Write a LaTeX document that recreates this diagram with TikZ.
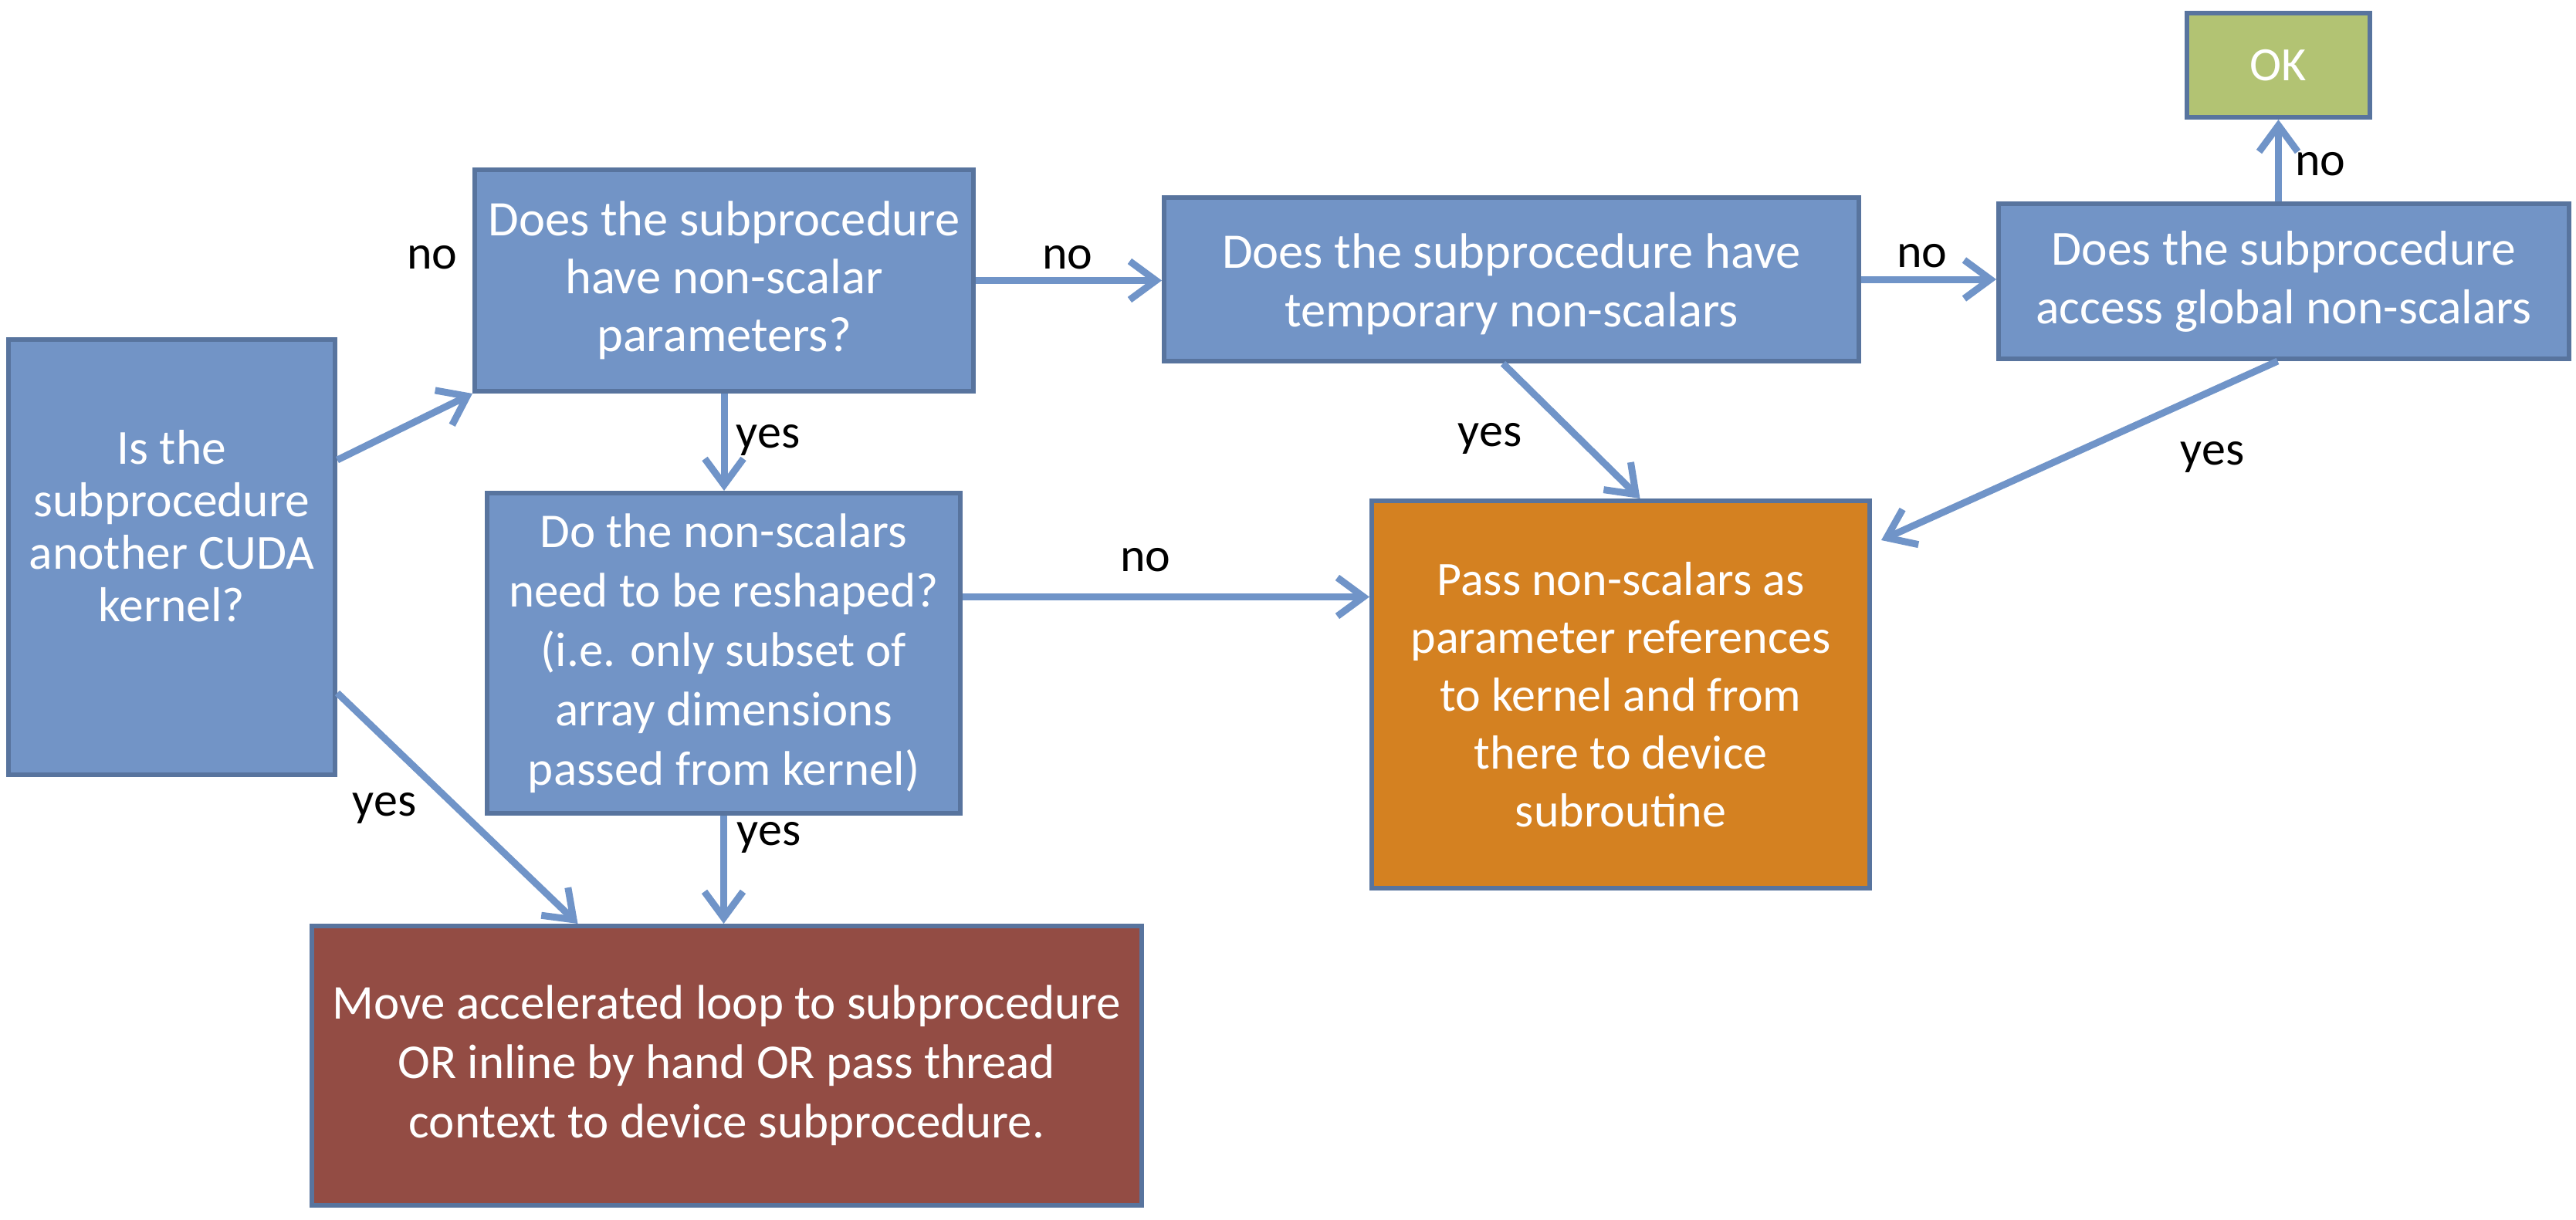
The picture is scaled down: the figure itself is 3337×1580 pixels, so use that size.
\documentclass[tikz,border=0pt]{standalone}
\usepackage{fontspec}
\setmainfont{Carlito}
\usetikzlibrary{arrows.meta}
\definecolor{boxblue}{HTML}{7294C6}
\definecolor{edgeblue}{HTML}{58749E}
\definecolor{arrowblue}{HTML}{7094C8}
\definecolor{maroonbox}{HTML}{934C44}
\definecolor{orangebox}{HTML}{D48121}
\definecolor{greenbox}{HTML}{B2C373}
\newcommand{\fs}[2]{\fontsize{#1}{#2}\selectfont}
\tikzset{
  box/.style={draw=edgeblue, line width=6pt, fill=boxblue, text=white, align=center,
    font=\fs{62}{77}, inner sep=0pt, anchor=center},
  boxtext/.style={text=white, align=center, inner sep=0pt, anchor=center},
  conn/.style={draw=arrowblue, line width=9pt, -{Straight Barb[length=34pt,width=50pt]}},
  lbl/.style={font=\fs{62}{74}, text=black, inner sep=0pt}
}
\begin{document}
\begin{tikzpicture}[x=1pt,y=-1pt]
\useasboundingbox (0,0) rectangle (3337,1580);
\node[box, minimum width=423pt, minimum height=564pt] (A) at (222.5,722) {};
\node[boxtext, font=\fs{63.5}{68}] (Atext) at ([yshift=40pt]A.center) {Is the\\subprocedure\\another CUDA\\kernel?};
\node[box, font=\fs{64.5}{75}, minimum width=646pt, minimum height=287pt] (B) at (938,363.5) {Does the subprocedure\\have non-scalar\\parameters?};
\node[box, font=\fs{63}{77}, minimum width=613pt, minimum height=415pt] (C) at (937.5,846.5) {Do the non-scalars\\need to be reshaped?\\(i.e. only subset of\\array dimensions\\passed from kernel)};
\node[box, font=\fs{63}{77}, fill=maroonbox, minimum width=1075pt, minimum height=362pt] (D) at (941.5,1381) {Move accelerated loop to subprocedure\\OR inline by hand OR pass thread\\context to device subprocedure.};
\node[box, minimum width=900pt, minimum height=212pt] (E) at (1958,362) {};
\node[boxtext, font=\fs{64.5}{76}] (Etext) at ([yshift=-6pt]E.center) {Does the subprocedure have\\temporary non-scalars};
\node[box, font=\fs{63.5}{76}, minimum width=739pt, minimum height=201pt] (F) at (2958.5,364.5) {Does the subprocedure\\access global non-scalars};
\node[box, font=\fs{62}{75}, fill=orangebox, minimum width=645pt, minimum height=502pt] (G) at (2099.5,900) {Pass non-scalars as\\parameter references\\to kernel and from\\there to device\\subroutine};
\node[box, fill=greenbox, minimum width=237pt, minimum height=135pt] (OK) at (2951.5,84.5) {OK};

\draw[conn] ([yshift=126pt]A.east) -- (B.south west);
\draw[conn] (B.south) -- (B.south |- C.north);
\draw[conn] (B.east) -- (E.west |- B.east);
\draw[conn] (E.east) -- (F.west |- E.east);
\draw[conn] (OK.south |- F.north) -- (OK.south);
\draw[conn] ([xshift=-11pt]E.south) -- ([xshift=25pt]G.north);
\draw[conn] ([xshift=-8pt]F.south) -- ([xshift=12pt,yshift=-54pt]G.north east);
\coordinate (cg) at ([yshift=73pt]C.east);
\draw[conn] (cg) -- (cg -| G.west);
\draw[conn] (C.south) -- (C.south |- D.north);
\draw[conn] ([yshift=-176pt]A.east) -- ([xshift=-193pt]D.north);

\node[lbl] (l1) at (560,334) {no};
\node[lbl] (l2) at (995,570) {yes};
\node[lbl] (l3) at (1383,334) {no};
\node[lbl] (l4) at (2490,332) {no};
\node[lbl] (l5) at (3006,213) {no};
\node[lbl] (l6) at (1930,568) {yes};
\node[lbl] (l7) at (2866,592) {yes};
\node[lbl] (l8) at (1484,726) {no};
\node[lbl] (l9) at (996,1085) {yes};
\node[lbl] (l10) at (498,1047) {yes};
\end{tikzpicture}
\end{document}
